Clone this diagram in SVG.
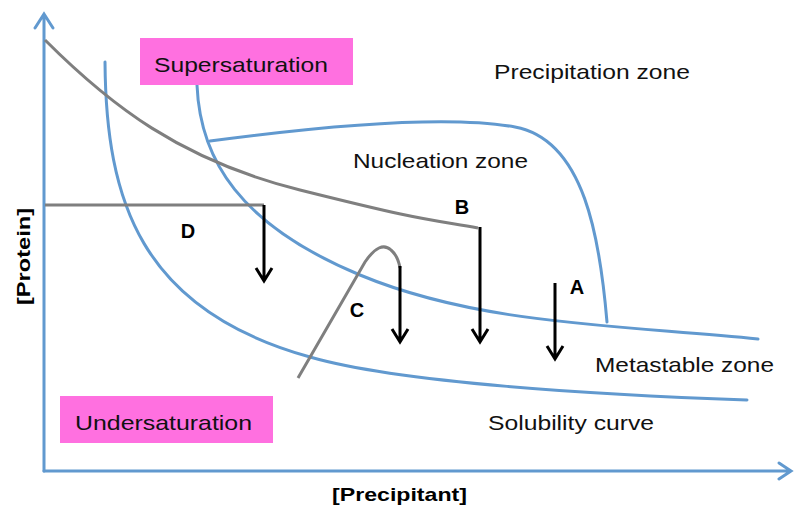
<svg xmlns="http://www.w3.org/2000/svg" width="794" height="516" viewBox="0 0 794 516">
<defs>
<style>
.blue{fill:none;stroke:#6199cf;stroke-width:3;stroke-linecap:round}
.gray{fill:none;stroke:#7f7f7f;stroke-width:3}
.blk{fill:none;stroke:#000;stroke-width:3}
.lbl{font-family:"Liberation Sans",Arial,sans-serif;font-size:21px;fill:#111}
.bold{font-family:"Liberation Sans",Arial,sans-serif;font-weight:bold;font-size:19px;fill:#000}
.let{font-family:"Liberation Sans",Arial,sans-serif;font-weight:bold;font-size:20px;fill:#000}
.box{fill:#ff70e0}
</style>
</defs>
<rect width="794" height="516" fill="#fff"/>
<g id="axes">
<path class="blue" d="M44,471 L44,15 M35,28 L44,14 L53,28"/>
<path class="blue" d="M44,471 L791,471 M779,463 L791,471 L779,479"/>
</g>
<g id="curves">
<path class="blue" d="M105,62 C106,200 140,310 310,357 C400,383 600,395 747,400"/>
<path class="blue" d="M197,85 C200,160 240,225 360,275 S620,325 758,339"/>
<path class="blue" d="M210,141 C330,125 450,115 515,127 C585,140 600,240 607,322"/>
<path class="gray" d="M45,40 C110,105 180,160 300,190 S420,218 478,228"/>
<path class="gray" d="M45,205 L264,205"/>
<path class="gray" d="M298,378 L365,262 Q380,240 391,250 Q398,256 400,268"/>
</g>
<g id="arrows">
<path class="blk" d="M264,205 L264,281 M256,268 L264,281 L272,268"/>
<path class="blk" d="M400,266 L400,342 M392,329 L400,342 L408,329"/>
<path class="blk" d="M480,227 L480,342 M472,329 L480,342 L488,329"/>
<path class="blk" d="M555,283 L555,359 M547,346 L555,359 L563,346"/>
</g>
<g id="supersaturation">
<rect class="box" x="140" y="38" width="213" height="47"/>
<text class="lbl" x="154" y="72" textLength="174" lengthAdjust="spacingAndGlyphs">Supersaturation</text>
</g>
<g id="undersaturation">
<rect class="box" x="60" y="396" width="213" height="47"/>
<text class="lbl" x="75" y="430" textLength="177" lengthAdjust="spacingAndGlyphs">Undersaturation</text>
</g>
<g id="zones">
<text class="lbl" x="494" y="79" textLength="196" lengthAdjust="spacingAndGlyphs">Precipitation zone</text>
<text class="lbl" x="353" y="168" textLength="175" lengthAdjust="spacingAndGlyphs">Nucleation zone</text>
<text class="lbl" x="595" y="372" textLength="179" lengthAdjust="spacingAndGlyphs">Metastable zone</text>
<text class="lbl" x="488" y="430" textLength="166" lengthAdjust="spacingAndGlyphs">Solubility curve</text>
</g>
<g id="letters">
<text class="let" x="188" y="238" text-anchor="middle">D</text>
<text class="let" x="462" y="214" text-anchor="middle">B</text>
<text class="let" x="357" y="317" text-anchor="middle">C</text>
<text class="let" x="577" y="294" text-anchor="middle">A</text>
</g>
<g id="axis-labels">
<text class="bold" x="332" y="501" textLength="135" lengthAdjust="spacingAndGlyphs">[Precipitant]</text>
<text class="bold" transform="translate(30,305) rotate(-90)" x="0" y="0" textLength="97" lengthAdjust="spacingAndGlyphs">[Protein]</text>
</g>
</svg>
